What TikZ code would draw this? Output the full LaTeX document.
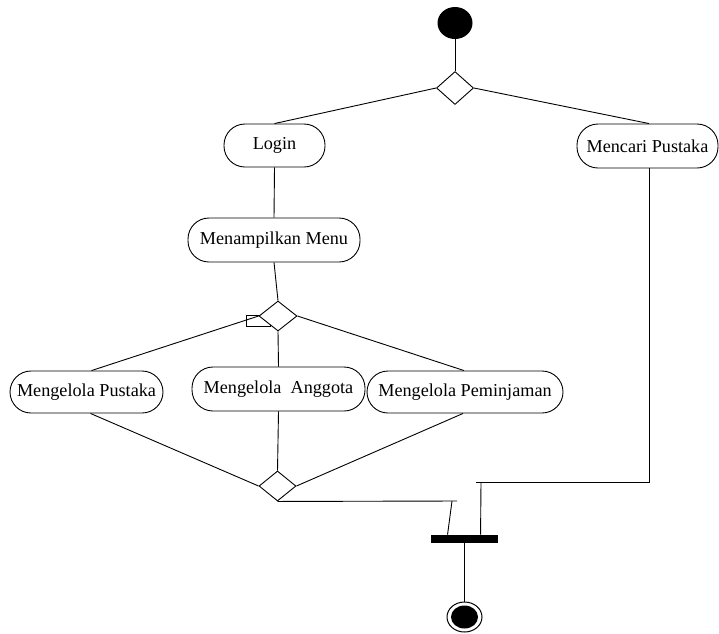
\documentclass[tikz,border=0pt]{standalone}
\usepackage{fontspec}
\setmainfont{Liberation Serif}
\usetikzlibrary{shapes.geometric}
\begin{document}
\begin{tikzpicture}[x=1pt,y=-1pt,
  every path/.style={line width=0.9pt},
  act/.style={draw, rectangle, rounded corners=21pt, inner sep=0pt, font=\fontsize{18.2}{21}\selectfont, fill=white},
  dec/.style={draw, diamond, inner sep=0pt, minimum width=37pt, minimum height=33pt, fill=white}]
\useasboundingbox (0,0) rectangle (719,633);
\fill[white] (0,0) rectangle (719,633);
% start
\node[ellipse, fill=black, minimum width=35pt, minimum height=32pt, inner sep=0pt] (start) at (455,23) {};
\node[dec] (d1) at (455,88) {};
\node[act, minimum width=101pt, minimum height=43pt] (login) at (274.5,145.5) {Login};
\node[act, minimum width=141pt, minimum height=44pt] (mencari) at (647.5,146) {Mencari Pustaka};
\node[act, minimum width=172pt, minimum height=44pt] (menu) at (274,240) {Menampilkan Menu};
% small rectangle behind diamond 2
\draw (246,315) rectangle (270,326);
\node[dec, minimum width=38pt, minimum height=30pt] (d2) at (278,316) {};
\node[act, minimum width=153pt, minimum height=42pt] (pustaka) at (86.5,392) {Mengelola Pustaka};
\node[act, minimum width=173pt, minimum height=44pt] (anggota) at (278.5,389) {Mengelola\ \ Anggota};
\node[act, minimum width=196pt, minimum height=42pt] (pinjam) at (465,392) {Mengelola Peminjaman};
\node[dec, minimum width=37pt, minimum height=30pt] (d3) at (277.5,486) {};
\node[rectangle, fill=black, minimum width=67pt, minimum height=8pt, inner sep=0pt] (bar) at (464.5,539) {};
\node[ellipse, draw, line width=1pt, minimum width=35pt, minimum height=30pt, inner sep=0pt] (final) at (464.5,617) {};
\node[ellipse, fill=black, minimum width=27pt, minimum height=23pt, inner sep=0pt] at (final.center) {};
\coordinate (j1) at (457,501);
\coordinate (j1s) at (452,501);
\coordinate (m1) at (649,482);
\coordinate (m2) at (476,482);
\coordinate (m3) at (481,482);
% connectors
\draw (start.south) -- (d1.north);
\draw (d1.west) -- (login.north);
\draw (d1.east) -- ([xshift=1.5pt]mencari.north);
\draw (login.south) -- (menu.north);
\draw (menu.south) -- (d2.north);
\draw (d2.west) -- ([xshift=5pt]pustaka.north);
\draw (d2.south) -- (anggota.north);
\draw (d2.east) -- ([xshift=-1pt]pinjam.north);
\draw ([xshift=4pt]pustaka.south) -- (d3.west);
\draw (anggota.south) -- (d3.north);
\draw ([xshift=-2pt]pinjam.south) -- (d3.east);
\draw (d3.south) -- (j1);
\draw (j1s) -- ([xshift=17pt]bar.north west);
\draw ([xshift=1.5pt]mencari.south) -- (m1) -- (m2);
\draw (m3) -- ([xshift=50pt]bar.north west);
\draw (bar.south) -- (final.north);
\end{tikzpicture}
\end{document}
